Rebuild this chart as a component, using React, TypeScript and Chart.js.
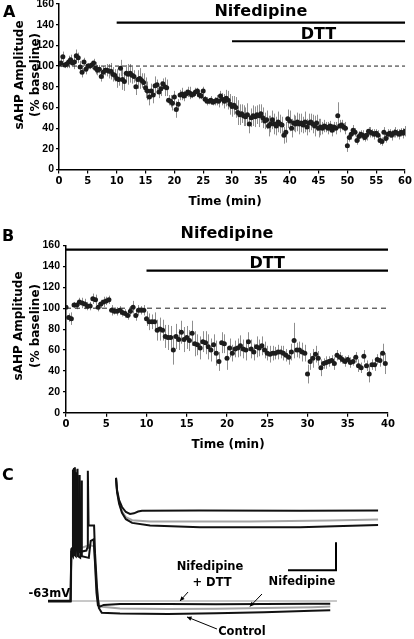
import React, { useEffect, useRef } from "react";
import { Chart, registerables } from "chart.js";

Chart.register(...registerables);

const WIDE = "'DejaVu Sans', sans-serif";
const ARIAL = "'Liberation Sans', Arial, sans-serif";

// ---------- Panel A : sAHP amplitude (% baseline), one sample every 1/3 min ----------
const A_SAMPLE_MIN = 1 / 3;
const A_AMPLITUDE = [
  102, 103, 109, 101, 102, 104, 106, 103, 104, 110, 108, 99, 94, 104, 97, 100, 100, 101, 103, 98, 96, 97, 90, 94, 96, 96, 95, 95, 92, 91,
  88, 87, 98, 87, 85, 93, 92, 93, 91, 90, 80, 87, 88, 86, 84, 79, 76, 70, 76, 72, 81, 82, 75, 78, 83, 80, 79, 67, 66, 64,
  70, 58, 63, 72, 73, 71, 73, 75, 74, 72, 73, 75, 76, 72, 71, 76, 68, 66, 66, 67, 65, 66, 67, 66, 71, 68, 66, 69, 67, 63,
  61, 62, 60, 55, 53, 54, 52, 51, 53, 44, 50, 52, 51, 53, 52, 54, 50, 47, 48, 42, 44, 48, 44, 42, 46, 44, 43, 33, 36, 49,
  47, 40, 45, 44, 46, 44, 45, 43, 46, 41, 45, 46, 44, 42, 45, 40, 41, 40, 42, 41, 40, 42, 38, 41, 40, 52, 42, 43, 41, 40,
  23, 31, 34, 38, 36, 28, 32, 34, 33, 31, 33, 37, 36, 35, 34, 35, 33, 28, 27, 36, 30, 34, 35, 33, 35, 36, 35, 34, 36, 35,
  37,
];
const A_SEM = [
  3, 4, 5, 3, 4, 6, 5, 4, 7, 6, 5, 6, 5, 4, 5, 3, 3, 4, 4, 6, 5, 4, 5, 6, 5, 6, 7, 8, 7, 6,
  9, 6, 8, 10, 9, 8, 10, 9, 8, 6, 8, 9, 10, 7, 9, 10, 9, 8, 7, 8, 9, 5, 6, 7, 5, 9, 8, 5, 6, 7,
  6, 8, 5, 5, 6, 5, 4, 5, 6, 3, 3, 4, 3, 4, 3, 4, 3, 4, 3, 4, 3, 4, 5, 6, 5, 6, 7, 8, 9, 10,
  10, 9, 10, 12, 10, 9, 10, 9, 11, 9, 9, 10, 10, 9, 11, 9, 10, 8, 9, 10, 8, 9, 10, 9, 10, 9, 8, 8, 10, 9,
  10, 9, 8, 8, 9, 10, 9, 8, 10, 8, 9, 8, 9, 10, 8, 9, 8, 6, 6, 5, 6, 5, 6, 5, 6, 13, 6, 5, 4, 6,
  6, 4, 5, 5, 4, 4, 5, 4, 5, 4, 5, 4, 5, 4, 5, 4, 5, 4, 4, 5, 4, 5, 4, 5, 4, 5, 4, 5, 4, 5,
  5,
];
const A_X_TICKS = [0, 5, 10, 15, 20, 25, 30, 35, 40, 45, 50, 55, 60];
const A_NIFEDIPINE_SPAN = [10, 60];
const A_NIFEDIPINE_LEVEL = 142;
const A_DTT_SPAN = [30, 60];
const A_DTT_LEVEL = 124;

// ---------- Panel B ----------
const B_SAMPLE_MIN = 1 / 3;
const B_AMPLITUDE = [
  101, 91, 90, 103, 103, 106, 105, 104, 102, 102, 109, 108, 101, 104, 106, 107, 108, 98, 97, 97, 98, 96, 95, 93, 97, 101, 93, 98, 98, 98,
  90, 87, 87, 87, 79, 80, 79, 73, 72, 72, 60, 73, 70, 77, 70, 72, 69, 76, 66, 65, 62, 68, 67, 63, 60, 65, 57, 49, 67, 66,
  52, 62, 57, 61, 62, 64, 61, 60, 68, 61, 58, 63, 62, 64, 60, 57, 56, 57, 57, 58, 58, 57, 55, 53, 58, 69, 60, 60, 58, 57,
  37, 49, 52, 56, 52, 43, 47, 48, 49, 50, 47, 55, 53, 51, 49, 51, 48, 49, 53, 45, 43, 54, 45, 37, 46, 46, 51, 50, 57, 47,
];
const B_SEM = [
  3, 4, 6, 3, 4, 4, 5, 5, 4, 4, 5, 5, 4, 4, 5, 4, 4, 5, 3, 4, 4, 4, 4, 4, 5, 6, 5, 5, 4, 5,
  7, 8, 7, 9, 10, 11, 10, 11, 12, 11, 14, 12, 10, 11, 12, 11, 10, 12, 12, 10, 11, 10, 11, 12, 11, 10, 12, 9, 10, 9,
  11, 9, 8, 8, 9, 10, 9, 10, 9, 9, 8, 10, 8, 9, 8, 7, 8, 7, 6, 7, 6, 7, 6, 7, 8, 17, 7, 8, 9, 8,
  9, 8, 9, 8, 7, 8, 5, 6, 5, 5, 6, 5, 5, 4, 5, 4, 5, 4, 5, 6, 5, 6, 5, 8, 5, 6, 5, 6, 9, 10,
];
const B_X_TICKS = [0, 5, 10, 15, 20, 25, 30, 35, 40];
const B_NIFEDIPINE_SPAN = [0, 40];
const B_NIFEDIPINE_LEVEL = 156;
const B_DTT_SPAN = [10, 40];
const B_DTT_LEVEL = 136;

const Y_TICKS = [0, 20, 40, 60, 80, 100, 120, 140, 160];
const BASELINE_PCT = 100;

// ---------- Panel C : voltage traces (time ms, membrane potential mV) ----------
const RESTING_MV = -63;
const CONTROL_TRACE = [
  [0, -63.2], [47, -63.2], [48.5, -44.5], [51, -44], [52, -16], [53, -44.5], [55, -44], [56, -15.2], [57, -44.5], [59, -44],
  [60, -17], [61, -45], [64, -45], [65, -18], [66, -45.5], [80, -45], [82, -44], [83, -16.5], [84.5, -36], [96, -36],
  [98, -46], [102, -58], [106, -65.5], [112, -67.2], [150, -67.5], [250, -67.6], [350, -67.4], [450, -67], [550, -66.5], [588, -66.3],
];
const NIFEDIPINE_TRACE = [
  [0, -63], [47.5, -63], [49, -45.5], [52, -45], [53.5, -17], [54.5, -45.5], [57, -45], [58.5, -16], [59.5, -45.5], [62, -45],
  [63.5, -18.5], [64.5, -45], [70, -44], [86, -43], [96, -43.5], [99, -52], [103, -62], [108, -65], [150, -65.7], [250, -65.9],
  [350, -65.8], [450, -65.5], [550, -65.2], [588, -65],
];
const NIF_DTT_TRACE = [
  [0, -62.9], [47, -62.9], [48.5, -46], [52, -47], [54, -15.5], [55, -46.5], [58, -47], [61.5, -15.8], [62.5, -47], [67, -47.5],
  [69.5, -20], [70.5, -47], [85, -47.6], [89, -41.5], [95, -41], [97.5, -48], [101, -60], [104, -64.6], [108, -65], [116, -64.4],
  [150, -64.1], [250, -64.1], [350, -64.2], [450, -64.1], [550, -64], [588, -64],
];
const INSET_NIF_DTT = [
  [100, -58], [104, -60.3], [112, -62.2], [123, -63.5], [138, -64.45], [154, -64.8], [169, -64.7], [185, -64.35], [200, -64.2],
  [420, -64.15], [810, -64.2], [1108, -64.15],
];
const INSET_NIFEDIPINE = [
  [100, -58], [104, -60.5], [112, -62.6], [123, -64.3], [138, -65.4], [162, -66], [231, -66.25], [615, -66.25], [923, -66.05], [1108, -65.85],
];
const INSET_CONTROL = [
  [100, -58], [104, -60.7], [112, -62.9], [123, -64.6], [138, -65.8], [162, -66.5], [231, -67], [423, -67.3], [808, -67.3], [1108, -66.9],
];
const SCALE_BAR_MS = [500, 600];
const SCALE_BAR_MV = [-52, -42];
const RESTING_LINE_MS = [0, 602];

const toXY = (arr: number[][]) => arr.map(([x, y]) => ({ x, y }));

type Bar = { label: string; span: number[]; level: number; gap: number };
type PanelCfg = {
  canvasTop: number;
  height: number;
  values: number[];
  sem: number[];
  step: number;
  xMax: number;
  xTicks: number[];
  plotTop: number;
  plotBottom: number;
  plotLeft: number;
  plotRight: number;
  bars: Bar[];
  letter: string;
  letterPos: number[];
  yTitleX: number[];
  yTitleY: number;
  xTitlePos: number[];
  dash: number[];
  yTickPad: number;
};

function amplitudeChart(canvas: HTMLCanvasElement, p: PanelCfg) {
  const pts = p.values.map((v, i) => ({ x: i * p.step, y: v }));
  const decor = {
    id: "decor",
    beforeDatasetsDraw(chart: any) {
      const { ctx, scales } = chart;
      const xs = scales.x;
      const ys = scales.y;
      ctx.save();
      ctx.strokeStyle = "#8e8e8e";
      ctx.lineWidth = 1;
      ctx.beginPath();
      p.values.forEach((v, i) => {
        const px = Math.round(xs.getPixelForValue(i * p.step)) + 0.5;
        ctx.moveTo(px, ys.getPixelForValue(v - p.sem[i]));
        ctx.lineTo(px, ys.getPixelForValue(v + p.sem[i]));
      });
      ctx.stroke();
      ctx.restore();
    },
    afterDraw(chart: any) {
      const { ctx, scales } = chart;
      const xs = scales.x;
      const ys = scales.y;
      const off = p.canvasTop;
      ctx.save();
      ctx.fillStyle = "#000";
      ctx.textBaseline = "alphabetic";
      ctx.textAlign = "left";
      ctx.font = `bold 16px ${WIDE}`;
      ctx.fillText(p.letter, p.letterPos[0], p.letterPos[1] - off);
      ctx.textAlign = "center";
      p.bars.forEach((b) => {
        const cx = xs.getPixelForValue((b.span[0] + b.span[1]) / 2);
        const cy = ys.getPixelForValue(b.level) - b.gap;
        ctx.font = `bold 16px ${WIDE}`;
        ctx.fillText(b.label, cx, cy);
      });
      ctx.textBaseline = "middle";
      ctx.font = `bold 12px ${WIDE}`;
      ctx.fillText("Time (min)", p.xTitlePos[0], p.xTitlePos[1] - off);
      const lines = ["sAHP Amplitude", "(% baseline)"];
      lines.forEach((t, k) => {
        ctx.save();
        ctx.translate(p.yTitleX[k], p.yTitleY - off);
        ctx.rotate(-Math.PI / 2);
        ctx.fillText(t, 0, 0);
        ctx.restore();
      });
      ctx.restore();
    },
  };

  const lineDs = (data: any[], extra: any) => ({
    data,
    showLine: true,
    pointRadius: 0,
    borderColor: "#000",
    backgroundColor: "#000",
    clip: false,
    ...extra,
  });

  return new Chart(canvas, {
    type: "scatter",
    data: {
      datasets: [
        {
          data: pts,
          showLine: false,
          pointRadius: 2.5,
          pointBorderWidth: 0,
          pointBackgroundColor: "#1c1c1c",
          pointBorderColor: "#1c1c1c",
        } as any,
        lineDs(
          [
            { x: 0, y: BASELINE_PCT },
            { x: p.xMax, y: BASELINE_PCT },
          ],
          { borderWidth: 1, borderDash: p.dash, borderColor: "#222" }
        ),
        ...p.bars.map((b) =>
          lineDs(
            [
              { x: b.span[0], y: b.level },
              { x: b.span[1], y: b.level },
            ],
            { borderWidth: 2.2 }
          )
        ),
      ],
    },
    options: {
      animation: false,
      responsive: false,
      devicePixelRatio: 1,
      events: [],
      layout: {
        autoPadding: false,
        padding: { top: p.plotTop - p.canvasTop, right: 414 - p.plotRight, left: 0, bottom: 0 },
      },
      plugins: { legend: { display: false }, tooltip: { enabled: false } },
      scales: {
        x: {
          type: "linear",
          min: 0,
          max: p.xMax,
          afterBuildTicks: (s: any) => {
            s.ticks = p.xTicks.map((v) => ({ value: v }));
          },
          afterFit: (s: any) => {
            s.height = p.height - (p.plotBottom - p.canvasTop);
          },
          grid: { drawOnChartArea: false, drawTicks: true, tickLength: 4, color: "#000", lineWidth: 1.2 },
          border: { display: true, color: "#000", width: 1.5 },
          ticks: {
            color: "#000",
            font: { family: WIDE, weight: "bold", size: 10 },
            padding: 2,
            maxRotation: 0,
            autoSkip: false,
          },
        },
        y: {
          type: "linear",
          min: 0,
          max: 160,
          afterBuildTicks: (s: any) => {
            s.ticks = Y_TICKS.map((v) => ({ value: v }));
          },
          afterFit: (s: any) => {
            s.width = p.plotLeft;
          },
          grid: { drawOnChartArea: false, drawTicks: true, tickLength: 3, color: "#000", lineWidth: 1.2 },
          border: { display: true, color: "#000", width: 1.5 },
          ticks: {
            color: "#000",
            font: { family: ARIAL, weight: "bold", size: 10.5 },
            padding: p.yTickPad,
            autoSkip: false,
          },
        },
      },
    } as any,
    plugins: [decor],
  });
}

function traceChart(canvas: HTMLCanvasElement) {
  const texts = [
    { text: "Nifedipine", x: 337.5, y: -50.9 },
    { text: "+ DTT", x: 341.7, y: -56.6 },
    { text: "Nifedipine", x: 529, y: -56.2 },
    { text: "Control", x: 404, y: -74.1 },
  ];
  const arrows = [
    { from: [291.7, -59.8], to: [275, -63] },
    { from: [445.8, -60.5], to: [420.8, -64.96] },
    { from: [352, -73], to: [289.6, -68.7] },
  ];
  const decor = {
    id: "cdecor",
    afterDraw(chart: any) {
      const { ctx, scales } = chart;
      const X = (v: number) => scales.x.getPixelForValue(v);
      const Y = (v: number) => scales.y.getPixelForValue(v);
      ctx.save();
      ctx.fillStyle = "#000";
      ctx.font = `bold 16px ${WIDE}`;
      ctx.textAlign = "left";
      ctx.textBaseline = "alphabetic";
      ctx.fillText("C", 2, 25);
      ctx.font = `bold 11.5px ${WIDE}`;
      ctx.textAlign = "right";
      ctx.textBaseline = "middle";
      ctx.fillText(`${RESTING_MV}mV`, X(46), Y(-60.5));
      ctx.textAlign = "center";
      texts.forEach((t) => ctx.fillText(t.text, X(t.x), Y(t.y)));
      ctx.strokeStyle = "#000";
      ctx.lineWidth = 1;
      arrows.forEach((a) => {
        const x1 = X(a.from[0]);
        const y1 = Y(a.from[1]);
        const x2 = X(a.to[0]);
        const y2 = Y(a.to[1]);
        ctx.beginPath();
        ctx.moveTo(x1, y1);
        ctx.lineTo(x2, y2);
        ctx.stroke();
        const ang = Math.atan2(y2 - y1, x2 - x1);
        const L = 5;
        ctx.beginPath();
        ctx.moveTo(x2, y2);
        ctx.lineTo(x2 - L * Math.cos(ang - 0.45), y2 - L * Math.sin(ang - 0.45));
        ctx.lineTo(x2 - L * Math.cos(ang + 0.45), y2 - L * Math.sin(ang + 0.45));
        ctx.closePath();
        ctx.fill();
      });
      ctx.restore();
    },
  };
  const tr = (data: number[][], color: string, width: number, order: number, inset = false) => ({
    data: toXY(data),
    showLine: true,
    pointRadius: 0,
    borderColor: color,
    borderWidth: width,
    tension: 0,
    order,
    xAxisID: inset ? "x2" : "x",
    yAxisID: inset ? "y2" : "y",
  });
  return new Chart(canvas, {
    type: "scatter",
    data: {
      datasets: [
        tr([[RESTING_LINE_MS[0], RESTING_MV], [RESTING_LINE_MS[1], RESTING_MV]], "#777", 0.8, 3),
        tr(NIFEDIPINE_TRACE, "#a5a5a5", 2, 2),
        tr(CONTROL_TRACE, "#111", 2, 1),
        tr(NIF_DTT_TRACE, "#111", 2, 1),
        tr(INSET_NIFEDIPINE, "#a5a5a5", 2, 2, true),
        tr(INSET_CONTROL, "#111", 2, 1, true),
        tr(INSET_NIF_DTT, "#111", 2, 1, true),
        tr([[SCALE_BAR_MS[0], SCALE_BAR_MV[0]], [SCALE_BAR_MS[1], SCALE_BAR_MV[0]], [SCALE_BAR_MS[1], SCALE_BAR_MV[1]]], "#000", 2, 0),
      ] as any,
    },
    options: {
      animation: false,
      responsive: false,
      devicePixelRatio: 1,
      events: [],
      layout: { autoPadding: false, padding: 0 },
      plugins: { legend: { display: false }, tooltip: { enabled: false } },
      scales: {
        x: { type: "linear", display: false, min: -100, max: 762.5 },
        y: { type: "linear", display: false, min: -76.57, max: -10.86 },
        x2: { type: "linear", display: false, min: -346.2, max: 1246.2 },
        y2: { type: "linear", display: false, min: -88.41, max: -53.69 },
      },
    } as any,
    plugins: [decor],
  });
}

const PANEL_A: PanelCfg = {
  canvasTop: -10,
  height: 222,
  values: A_AMPLITUDE,
  sem: A_SEM,
  step: A_SAMPLE_MIN,
  xMax: 60,
  xTicks: A_X_TICKS,
  plotTop: 4,
  plotBottom: 169.5,
  plotLeft: 59,
  plotRight: 406,
  bars: [
    { label: "Nifedipine", span: A_NIFEDIPINE_SPAN, level: A_NIFEDIPINE_LEVEL, gap: 6.5 },
    { label: "DTT", span: A_DTT_SPAN, level: A_DTT_LEVEL, gap: 2.5 },
  ],
  letter: "A",
  letterPos: [3, 16.5],
  yTitleX: [19.5, 35.5],
  yTitleY: 75,
  xTitlePos: [225, 202],
  dash: [4, 3],
  yTickPad: 2,
};

const PANEL_B: PanelCfg = {
  canvasTop: 215,
  height: 240,
  values: B_AMPLITUDE,
  sem: B_SEM,
  step: B_SAMPLE_MIN,
  xMax: 40,
  xTicks: B_X_TICKS,
  plotTop: 245.5,
  plotBottom: 412.7,
  plotLeft: 66,
  plotRight: 388,
  bars: [
    { label: "Nifedipine", span: B_NIFEDIPINE_SPAN, level: B_NIFEDIPINE_LEVEL, gap: 12 },
    { label: "DTT", span: B_DTT_SPAN, level: B_DTT_LEVEL, gap: 3 },
  ],
  letter: "B",
  letterPos: [2, 241],
  yTitleX: [19, 35.5],
  yTitleY: 326,
  xTitlePos: [228, 445],
  dash: [5, 4],
  yTickPad: 3,
};

export default function App() {
  const aRef = useRef<HTMLCanvasElement>(null);
  const bRef = useRef<HTMLCanvasElement>(null);
  const cRef = useRef<HTMLCanvasElement>(null);

  useEffect(() => {
    const charts = [
      amplitudeChart(aRef.current!, PANEL_A),
      amplitudeChart(bRef.current!, PANEL_B),
      traceChart(cRef.current!),
    ];
    return () => charts.forEach((c) => c.destroy());
  }, []);

  const cv = (top: number, h: number): React.CSSProperties => ({
    position: "absolute",
    left: 0,
    top,
    width: 414,
    height: h,
  });

  return (
    <div
      style={{
        position: "fixed",
        left: 0,
        top: 0,
        width: 414,
        height: 639,
        background: "#fff",
        overflow: "hidden",
      }}
    >
      <canvas ref={aRef} width={414} height={222} style={cv(-10, 222)} />
      <canvas ref={bRef} width={414} height={240} style={cv(215, 240)} />
      <canvas ref={cRef} width={414} height={184} style={cv(455, 184)} />
    </div>
  );
}
